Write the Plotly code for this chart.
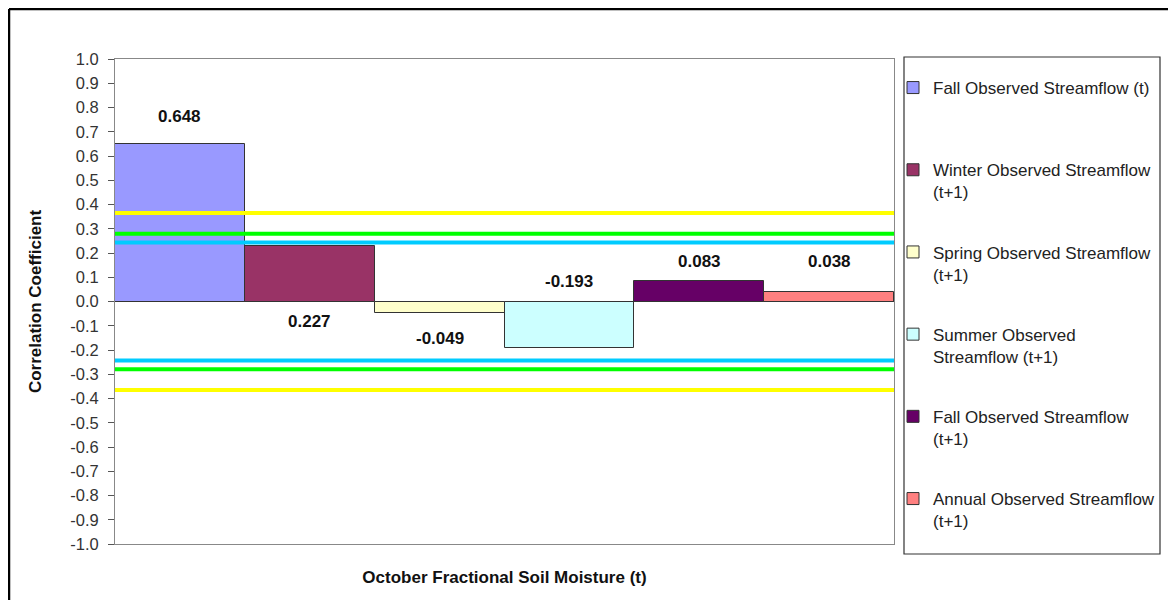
import plotly.graph_objects as go

# ---- data ----
series_names = [
    "Fall Observed Streamflow (t)",
    "Winter Observed Streamflow<br>(t+1)",
    "Spring Observed Streamflow<br>(t+1)",
    "Summer Observed<br>Streamflow (t+1)",
    "Fall Observed Streamflow<br>(t+1)",
    "Annual Observed Streamflow<br>(t+1)",
]
series_values = [0.648, 0.227, -0.049, -0.193, 0.083, 0.038]
series_colors = ["#9999FF", "#993366", "#FFFFCC", "#CCFFFF", "#660066", "#FF8080"]
# label heights (data units) as placed in the original chart
label_y = [0.764, -0.083, -0.153, 0.084, 0.166, 0.166]
category = ["October Fractional Soil Moisture (t)"]

threshold_values = [0.365, 0.279, 0.243]
threshold_colors = ["#FFFF00", "#00FF00", "#00CCFF"]

y_ticks = [round(-1.0 + 0.1 * i, 1) for i in range(21)]
y_ticktext = [f"{v:.1f}" for v in y_ticks]

# ---- layout geometry (page pixels; the page body has an 8px margin) ----
OFF = 8
W, H = 1176 - OFF, 600 - OFF
PL, PR, PT, PB = 115, 894, 59, 544          # plot area in page pixels
ML, MR, MT, MB = PL - OFF, W - (PR - OFF), PT - OFF, H - (PB - OFF)
PW, PH = W - ML - MR, H - MT - MB


def px_x(px):
    return (px - OFF - ML) / PW


def px_y(py):
    return (H - MB - (py - OFF)) / PH


fig = go.Figure()
n = len(series_values)
for i, (name, val, col) in enumerate(zip(series_names, series_values, series_colors)):
    label = name if "<br>" in name else name + "<br> "
    fig.add_trace(go.Bar(
        x=[0], y=[val], name=label,
        marker=dict(color=col, line=dict(color="#333333", width=1)),
        legendgroup=f"g{i}",
        hoverinfo="name+y",
    ))
    xc = -0.5 + (i + 0.5) / n
    fig.add_annotation(
        x=xc, y=label_y[i], xref="x", yref="y",
        text=f"{val:.3f}", showarrow=False,
        font=dict(family="Arial, Liberation Sans", size=17, color="#111111", weight="bold"),
    )

for v, c in zip(threshold_values, threshold_colors):
    for s in (1, -1):
        fig.add_shape(type="line", xref="paper", yref="y", x0=0, x1=1,
                      y0=s * v, y1=s * v, line=dict(color=c, width=4), layer="above")

# legend frame
fig.add_shape(type="rect", xref="paper", yref="paper",
              x0=px_x(904), x1=px_x(1160), y0=px_y(554), y1=px_y(57),
              line=dict(color="#333333", width=1.2), fillcolor="rgba(0,0,0,0)", layer="below")
# outer chart frame (left and top edges visible)
fig.add_shape(type="line", xref="paper", yref="paper",
              x0=px_x(9), x1=px_x(9), y0=px_y(9), y1=px_y(640),
              line=dict(color="#000000", width=2.5))
fig.add_shape(type="line", xref="paper", yref="paper",
              x0=px_x(9), x1=px_x(1220), y0=px_y(9), y1=px_y(9),
              line=dict(color="#000000", width=2.5))

fig.update_layout(
    width=W, height=H,
    margin=dict(l=ML, r=MR, t=MT, b=MB, autoexpand=False),
    paper_bgcolor="white", plot_bgcolor="white",
    barmode="group", bargap=0, bargroupgap=0,
    font=dict(family="Arial, Liberation Sans", size=16, color="#222222"),
    showlegend=True,
    legend=dict(
        x=px_x(893), xanchor="left", y=px_y(70), yanchor="top",
        bgcolor="rgba(0,0,0,0)", borderwidth=0,
        font=dict(size=17, color="#222222"),
        tracegroupgap=35, valign="top", traceorder="grouped",
    ),
    xaxis=dict(
        range=[-0.5, 0.5], showticklabels=False, ticks="",
        showline=True, linecolor="#888888", linewidth=1, mirror=True,
        showgrid=False, zeroline=False,
        title=dict(text="<b>October Fractional Soil Moisture (t)</b>",
                   font=dict(size=17, color="#111111"), standoff=27),
    ),
    yaxis=dict(
        range=[-1.0, 1.0], tickvals=y_ticks, ticktext=y_ticktext,
        ticks="outside", ticklen=6, tickcolor="#555555",
        ticklabelstandoff=6,
        tickfont=dict(size=16.5, color="#333333"),
        showline=True, linecolor="#888888", linewidth=1, mirror=True,
        showgrid=False, zeroline=True, zerolinecolor="#222222", zerolinewidth=1,
        title=dict(text="<b>Correlation Coefficient</b>",
                   font=dict(size=17, color="#111111"), standoff=24),
    ),
)

fig.write_html("out.html")
